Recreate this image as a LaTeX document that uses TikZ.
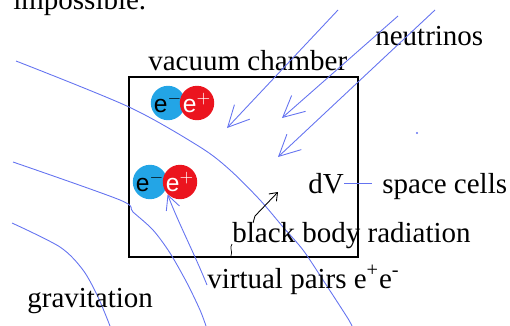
\documentclass[tikz,border=0pt]{standalone}
\usepackage{fontspec}
\setmainfont{Liberation Serif}
\newfontfamily\pairfont{Liberation Sans}
\usepackage{xcolor}
\usetikzlibrary{arrows.meta,positioning}

\definecolor{fieldblue}{RGB}{100,115,240}
\definecolor{eminus}{RGB}{35,165,230}
\definecolor{eplus}{RGB}{235,20,30}

\begin{document}
\begin{tikzpicture}[x=0.02cm, y=-0.02cm,
    txt/.style={inner sep=0pt, anchor=base west, font=\fontsize{16.5}{19}\selectfont},
    particle/.style={circle, inner sep=0pt, minimum size=0.56cm, font=\pairfont\fontsize{14}{14}\selectfont},
    field/.style={fieldblue, line width=0.5pt},
    arrow/.style={-{Straight Barb[length=8pt,width=8pt]}, fieldblue, line width=0.5pt},
    ray/.style={-{Straight Barb[length=12pt,width=12pt]}, fieldblue, line width=0.5pt}
]
    \clip (0,0) rectangle (510,325);

    % Text cut off at the top
    \node[txt] (impossible) at (13,9) {impossible.};

    % Vacuum chamber
    \node[draw, line width=1pt, minimum width=4.58cm, minimum height=3.6cm, inner sep=0pt] (chamber) at (243.5,167) {};
    \node[txt] (chambertxt) at (148,70) {vacuum chamber};

    % Pairs
    \node[particle, fill=eminus] (em1) at (168,103) {e$^-$};
    \node[particle, fill=eplus, text=white] (ep1) at (197,103) {e$^+$};
    \node[particle, fill=eminus] (em2) at (150,182) {e$^-$};
    \node[particle, fill=eplus, text=white] (ep2) at (180,182) {e$^+$};

    % Gravitation field lines
    \draw[field] plot[smooth] coordinates {(16,61) (129,107) (200,147) (230,170) (260,200) (283,227) (303,250) (323,280) (347,317) (352,326)};
    \draw[field] plot[smooth] coordinates {(13,162) (120,200) (133,212) (153,230) (170,253) (187,283) (200,310) (206,326)};
    \draw[field] plot[smooth] coordinates {(12,223) (60,247) (83,270) (98,297) (110,326)};

    % Neutrinos
    \node[txt] (neutrinos) at (375,45) {neutrinos};
    \coordinate (n1s) at (338,10);
    \coordinate (n1e) at (227,128);
    \coordinate (n2s) at (398,16);
    \coordinate (n2e) at (282,118);
    \coordinate (n3s) at (435,10);
    \coordinate (n3e) at (278,157);
    \draw[ray] (n1s) -- (n1e);
    \draw[ray] (n2s) -- (n2e);
    \draw[ray] (n3s) -- (n3e);
    \fill[fieldblue] (417,133) circle (0.6pt);

    % Space cells
    \node[txt] (dV) at (308,193) {dV};
    \node[txt] (cells) at (382,193) {space cells};
    \draw[field] (dV.east) -- ([xshift=-0.2cm]dV.east -| cells.west);

    % Black body radiation
    \node[txt] (bbr) at (232,242) {black body radiation};
    \coordinate (bbrs) at (253,223);
    \coordinate (bbre) at (278,192);
    \draw[-{Straight Barb[length=4pt,width=6pt]}, line width=0.5pt] (bbrs) -- (255,216) -- (bbre);
    \draw[line width=0.4pt] (232,244) .. controls (229,248) and (233,251) .. (231,256);

    % Virtual pairs
    \node[txt] (vpairs) at (207,288) {virtual pairs e\textsuperscript{+}e\textsuperscript{-}};
    \coordinate (vps) at (207,285);
    \draw[arrow] (vps) .. controls (195,255) and (178,222) .. (ep2.south west);

    % Gravitation
    \node[txt] (gravitation) at (27,307) {gravitation};
\end{tikzpicture}
\end{document}
